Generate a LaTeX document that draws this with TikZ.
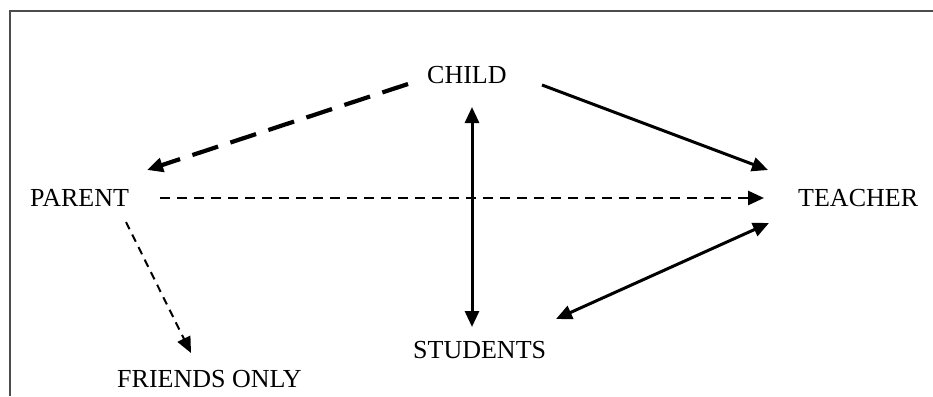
\documentclass[tikz,border=0pt]{standalone}
\usepackage{fontspec}
\setmainfont{Liberation Serif}
\usetikzlibrary{arrows.meta}
\begin{document}
\begin{tikzpicture}[x=1pt,y=-1pt,
  lbl/.style={inner sep=0pt,anchor=base west,font=\fontsize{26}{30}\selectfont},
  tip/.style={-{Triangle[length=16pt,width=14pt]}},
  dtip/.style={{Triangle[length=16pt,width=14pt]}-{Triangle[length=16pt,width=14pt]}},
  longdash/.style={line width=4.2pt,dash pattern=on 27pt off 13pt},
  middash/.style={line width=2.8pt,dash pattern=on 10pt off 7pt},
  thindash/.style={line width=2pt,dash pattern=on 8pt off 6pt},
  solidarr/.style={line width=3pt}]
\useasboundingbox (0,0) rectangle (933,396);
\draw[line width=1.4pt,black!70] (10,396) -- (10,11) -- (933,11);
\node[lbl] (child) at (427,83) {CHILD};
\node[lbl] (parent) at (30,206) {PARENT};
\node[lbl] (teacher) at (798,206) {TEACHER};
\node[lbl] (students) at (413,358) {STUDENTS};
\node[lbl] (friends) at (117,387) {FRIENDS ONLY};
\coordinate (cp1) at (408,84);
\coordinate (cp2) at (147,170);
\coordinate (ct1) at (542,85);
\coordinate (ct2) at (768,170);
\coordinate (pt1) at (160,198);
\coordinate (pt2) at (764,198);
\coordinate (cs1) at (472,107);
\coordinate (cs2) at (472,327);
\coordinate (st1) at (556,319);
\coordinate (st2) at (769,223);
\coordinate (pf1) at (126,222);
\coordinate (pf2) at (191,353);
\draw[tip,longdash] (cp1) -- (cp2);
\draw[tip,solidarr] (ct1) -- (ct2);
\draw[tip,middash] (pt1) -- (pt2);
\draw[dtip,solidarr] (cs1) -- (cs2);
\draw[dtip,solidarr] (st1) -- (st2);
\draw[tip,thindash] (pf1) -- (pf2);
\end{tikzpicture}
\end{document}
